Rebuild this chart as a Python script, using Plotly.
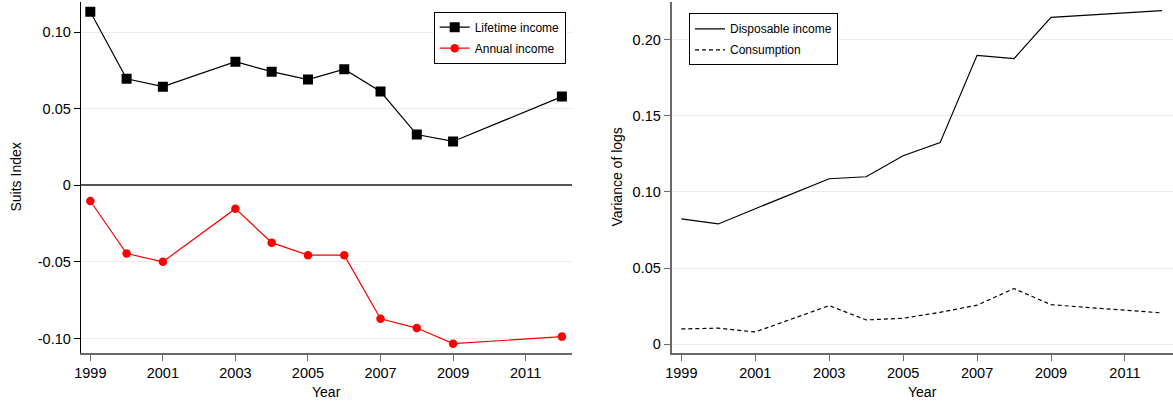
import plotly.graph_objects as go

# Survey years
years = [1999, 2000, 2001, 2003, 2004, 2005, 2006, 2007, 2008, 2009, 2012]

# Left panel: Suits index of tax progressivity
lifetime_income = [0.1134, 0.0696, 0.0645, 0.0808, 0.0743, 0.0691, 0.0759, 0.0613, 0.0332, 0.0287, 0.0580]
annual_income = [-0.0102, -0.0445, -0.0499, -0.0152, -0.0374, -0.0456, -0.0456, -0.0871, -0.0932, -0.1034, -0.0988]

# Right panel: variance of logs
disposable_income = [0.0823, 0.0790, 0.0890, 0.1087, 0.1100, 0.1238, 0.1324, 0.1897, 0.1875, 0.2146, 0.2190]
consumption = [0.0101, 0.0106, 0.0081, 0.0254, 0.0160, 0.0171, 0.0210, 0.0257, 0.0366, 0.0260, 0.0206]

x_ticks = [1999, 2001, 2003, 2005, 2007, 2009, 2011]
left_y_ticks = [-0.10, -0.05, 0, 0.05, 0.10]
left_y_labels = ["-0.10", "-0.05", "0", "0.05", "0.10"]
right_y_ticks = [0, 0.05, 0.10, 0.15, 0.20]
right_y_labels = ["0", "0.05", "0.10", "0.15", "0.20"]

W, H = 1173, 403
FONT = "Liberation Sans, Arial, Helvetica, sans-serif"
AXIS_GRAY = "#6a6a6a"
GRID = "#ececec"

fig = go.Figure()

fig.add_trace(go.Scatter(
    x=years, y=lifetime_income, name="Lifetime income", mode="lines+markers",
    line=dict(color="black", width=1.2),
    marker=dict(symbol="square", size=10, color="black"),
    xaxis="x", yaxis="y", legend="legend", legendgroup="a",
))
fig.add_trace(go.Scatter(
    x=years, y=annual_income, name="Annual income", mode="lines+markers",
    line=dict(color="#ff0000", width=1.2),
    marker=dict(symbol="circle", size=8.5, color="#ff0000"),
    xaxis="x", yaxis="y", legend="legend", legendgroup="b",
))
fig.add_trace(go.Scatter(
    x=years, y=disposable_income, name="Disposable income", mode="lines",
    line=dict(color="black", width=1.2),
    xaxis="x2", yaxis="y2", legend="legend2", legendgroup="c",
))
fig.add_trace(go.Scatter(
    x=years, y=consumption, name="Consumption", mode="lines",
    line=dict(color="black", width=1.2, dash="4px,3px"),
    xaxis="x2", yaxis="y2", legend="legend2", legendgroup="d",
))

tick_font = dict(family=FONT, size=14.5, color="black")
y_dom = [50 / H, 401 / H]

common_x = dict(
    tickmode="array", tickvals=x_ticks, ticktext=[str(t) for t in x_ticks],
    ticks="outside", ticklen=6, tickwidth=1, tickfont=tick_font,
    showgrid=False, zeroline=False, showline=True,
    linecolor=AXIS_GRAY, linewidth=2, tickcolor=AXIS_GRAY,
    automargin=False,
)

legend_common = dict(
    xanchor="left", yanchor="top",
    bgcolor="white", bordercolor="black", borderwidth=1,
    font=dict(family=FONT, size=12, color="black"),
    traceorder="grouped", tracegroupgap=2,
)

fig.update_layout(
    width=W, height=H,
    margin=dict(l=0, r=0, t=0, b=0),
    paper_bgcolor="white", plot_bgcolor="white",
    font=dict(family=FONT, color="black"),
    template="none",
    xaxis=dict(domain=[80.7 / W, 571.7 / W], range=[1998.735, 2012.27], anchor="y", **common_x),
    yaxis=dict(
        domain=y_dom, range=[-0.1095, 0.1198], anchor="x",
        tickmode="array", tickvals=left_y_ticks, ticktext=left_y_labels,
        ticks="outside", ticklen=6, tickwidth=1, tickcolor="black", tickfont=tick_font,
        showgrid=True, gridcolor=GRID, gridwidth=1,
        zeroline=True, zerolinecolor="#555555", zerolinewidth=1.5,
        showline=True, linecolor="black", linewidth=1, automargin=False,
    ),
    xaxis2=dict(domain=[671.7 / W, 1.0], range=[1998.74, 2012.3], anchor="y2", **common_x),
    yaxis2=dict(
        domain=y_dom, range=[-0.0057, 0.2247], anchor="x2",
        tickmode="array", tickvals=right_y_ticks, ticktext=right_y_labels,
        ticks="outside", ticklen=6, tickwidth=1, tickcolor=AXIS_GRAY, tickfont=tick_font,
        showgrid=True, gridcolor=GRID, gridwidth=1, zeroline=False,
        showline=True, linecolor=AXIS_GRAY, linewidth=2, automargin=False,
    ),
    legend=dict(x=433.7 / W, y=1 - 11.7 / H, **legend_common),
    legend2=dict(x=689 / W, y=1 - 13.3 / H, **legend_common),
    showlegend=True,
)

# Axis titles
title_font = dict(family=FONT, size=14, color="black")
fig.add_annotation(text="Suits Index", x=15 / W, y=1 - 177.5 / H, xref="paper", yref="paper",
                   textangle=-90, showarrow=False, font=title_font, xanchor="center", yanchor="middle")
fig.add_annotation(text="Variance of logs", x=616 / W, y=1 - 177.5 / H, xref="paper", yref="paper",
                   textangle=-90, showarrow=False, font=title_font, xanchor="center", yanchor="middle")
fig.add_annotation(text="Year", x=326.2 / W, y=1 - 391.7 / H, xref="paper", yref="paper",
                   showarrow=False, font=title_font, xanchor="center", yanchor="middle")
fig.add_annotation(text="Year", x=922.3 / W, y=1 - 391.7 / H, xref="paper", yref="paper",
                   showarrow=False, font=title_font, xanchor="center", yanchor="middle")

fig.write_html("out.html")
